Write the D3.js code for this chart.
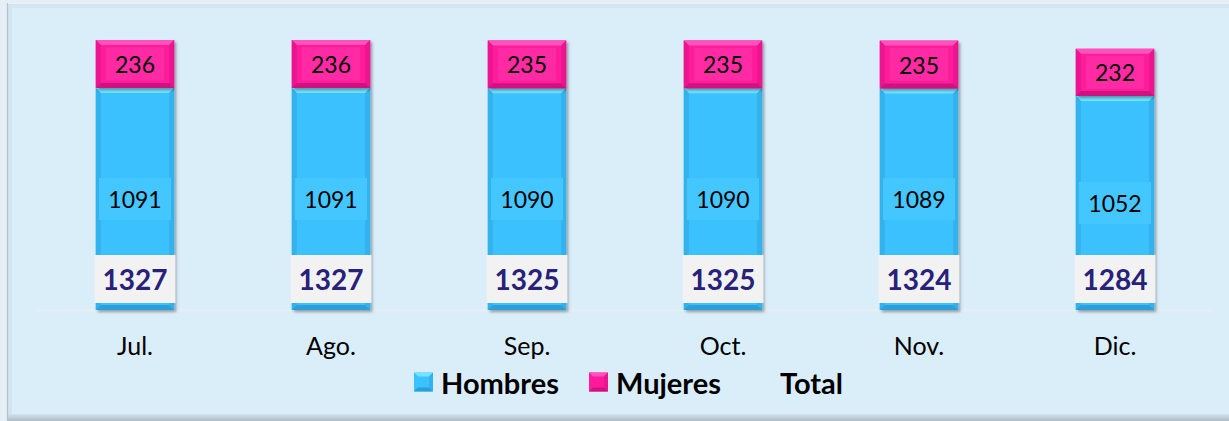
<!DOCTYPE html>
<html>
<head>
<meta charset="utf-8">
<script src="https://cdn.jsdelivr.net/npm/d3@7"></script>
<style>
  html, body { margin: 0; padding: 0; background: #ffffff; }
  svg { display: block; }
  text { font-family: Lato, "Liberation Sans", sans-serif; }
</style>
</head>
<body>
<svg id="chart" width="1229" height="421"></svg>
<script>
// Monthly headcount by sex, second half of the year
const categories = ["Jul.", "Ago.", "Sep.", "Oct.", "Nov.", "Dic."];
const hombres = [1091, 1091, 1090, 1090, 1089, 1052];
const mujeres = [236, 236, 235, 235, 235, 232];
const totals = [1327, 1327, 1325, 1325, 1324, 1284];
const seriesNames = ["Hombres", "Mujeres", "Total"];

const W = 1229, H = 421;
const svg = d3.select("#chart");

// Panel frame with a light bevel
const defs = svg.append("defs");
const bottomGrad = defs.append("linearGradient").attr("id", "bottomBand")
  .attr("x1", 0).attr("y1", 0).attr("x2", 0).attr("y2", 1);
bottomGrad.append("stop").attr("offset", "0%").attr("stop-color", "#d3e2ec");
bottomGrad.append("stop").attr("offset", "100%").attr("stop-color", "#aebcc6");

const shadow = defs.append("filter").attr("id", "barShadow")
  .attr("x", "-20%").attr("y", "-10%").attr("width", "150%").attr("height", "130%");
shadow.append("feDropShadow").attr("dx", 2).attr("dy", 2)
  .attr("stdDeviation", 1.6).attr("flood-color", "#000").attr("flood-opacity", 0.35);

svg.append("rect").attr("x", 0).attr("y", 0).attr("width", W).attr("height", H)
  .attr("fill", "#e6eff5");
svg.append("rect").attr("x", 8).attr("y", 3).attr("width", W - 8).attr("height", H - 3)
  .attr("fill", "#d2e5f1");
svg.append("rect").attr("x", 12).attr("y", 8).attr("width", W - 12).attr("height", 406)
  .attr("fill", "#daeefa");
svg.append("rect").attr("x", 8).attr("y", 414).attr("width", W - 8).attr("height", 7)
  .attr("fill", "url(#bottomBand)");
svg.append("line").attr("x1", 7.5).attr("x2", 7.5).attr("y1", 3).attr("y2", H)
  .attr("stroke", "#b4c3cd").attr("stroke-width", 1.2);
svg.append("line").attr("x1", 8).attr("x2", W).attr("y1", 3.5).attr("y2", 3.5)
  .attr("stroke", "#e9f1f6").attr("stroke-width", 1);

// Scales
const x = d3.scaleBand().domain(categories).range([37, 1213]).paddingInner(0.6).paddingOuter(0.3);
const y = d3.scaleLinear().domain([0, 1400]).range([310, 310 - 1400 * 270 / 1327]);

// Baseline
svg.append("line").attr("x1", 37).attr("x2", 1213).attr("y1", y(0)).attr("y2", y(0))
  .attr("stroke", "#e7edf1").attr("stroke-width", 2.5);

// Stacked data
const rows = categories.map((c, i) => ({ cat: c, Hombres: hombres[i], Mujeres: mujeres[i], Total: totals[i] }));
const stacked = d3.stack().keys(["Hombres", "Mujeres"])(rows);

const palette = {
  Hombres: { main: "#3bc1fe", top: "#72e4ff", side: "#33b2ec", bottom: "#2a9fd8", label: "#44c7ff" },
  Mujeres: { main: "#fe1a9b", top: "#ff52bd", side: "#ec1590", bottom: "#cf1280", label: "#ff2aa4" }
};

const bev = 5;
const barsG = svg.append("g");

stacked.forEach(layer => {
  const key = layer.key;
  const col = palette[key];
  layer.forEach(seg => {
    const cat = seg.data.cat;
    const x0 = x(cat), x1 = x(cat) + x.bandwidth();
    const y0 = y(seg[1]), y1 = y(seg[0]);
    const g = barsG.append("g");
    g.append("rect").attr("x", x0).attr("y", y0).attr("width", x1 - x0).attr("height", y1 - y0)
      .attr("fill", col.main).attr("filter", "url(#barShadow)");
    // bevel faces
    g.append("polygon").attr("points", [[x0, y0], [x1, y0], [x1 - bev, y0 + bev], [x0 + bev, y0 + bev]].join(" "))
      .attr("fill", col.top);
    g.append("polygon").attr("points", [[x0, y0], [x0 + bev, y0 + bev], [x0 + bev, y1 - bev], [x0, y1]].join(" "))
      .attr("fill", col.side);
    g.append("polygon").attr("points", [[x1, y0], [x1, y1], [x1 - bev, y1 - bev], [x1 - bev, y0 + bev]].join(" "))
      .attr("fill", col.side);
    g.append("polygon").attr("points", [[x0, y1], [x0 + bev, y1 - bev], [x1 - bev, y1 - bev], [x1, y1]].join(" "))
      .attr("fill", col.bottom);
  });
});

// Segment value labels
const labelG = svg.append("g");
stacked.forEach(layer => {
  const key = layer.key;
  const col = palette[key];
  layer.forEach(seg => {
    const cx = x(seg.data.cat) + x.bandwidth() / 2;
    const cy = (y(seg[0]) + y(seg[1])) / 2;
    const bw = key === "Mujeres" ? 58 : 72;
    const bh = key === "Mujeres" ? 33 : 42;
    labelG.append("rect").attr("x", cx - bw / 2).attr("y", cy - bh / 2)
      .attr("width", bw).attr("height", bh).attr("fill", col.label);
    labelG.append("text").attr("x", cx).attr("y", cy)
      .attr("text-anchor", "middle").attr("dominant-baseline", "central")
      .attr("font-size", 23).attr("fill", "#000")
      .text(seg.data[key]);
  });
});

// Total labels placed at the bar base
rows.forEach(r => {
  const cx = x(r.cat) + x.bandwidth() / 2;
  const bottom = y(0) - 7;
  labelG.append("rect").attr("x", cx - 40.5).attr("y", bottom - 48)
    .attr("width", 81).attr("height", 48).attr("fill", "#f2f2f2");
  labelG.append("text").attr("x", cx).attr("y", bottom - 24)
    .attr("text-anchor", "middle").attr("dominant-baseline", "central")
    .attr("font-size", 28).attr("font-weight", "bold").attr("fill", "#272179")
    .text(r.Total);
});

// Category axis
const xAxis = d3.axisBottom(x).tickSize(0).tickPadding(0);
const axG = svg.append("g").attr("transform", `translate(0, ${y(0) + 36})`).call(xAxis);
axG.select(".domain").remove();
axG.selectAll("text").attr("font-size", 25).attr("fill", "#000")
  .attr("font-family", "Lato, 'Liberation Sans', sans-serif")
  .attr("dy", "0.35em").attr("y", 0);

// Legend
const legend = svg.append("g");
const legendItems = [
  { name: seriesNames[0], x: 414, col: palette.Hombres },
  { name: seriesNames[1], x: 589, col: palette.Mujeres },
  { name: seriesNames[2], x: 780, col: null }
];
legendItems.forEach(it => {
  const ly = 382;
  let tx = it.x;
  if (it.col) {
    const s = 19, x0 = it.x, y0 = ly - 9.5, b = 4;
    legend.append("rect").attr("x", x0).attr("y", y0).attr("width", s).attr("height", s).attr("fill", it.col.main);
    legend.append("polygon").attr("points", [[x0, y0], [x0 + s, y0], [x0 + s - b, y0 + b], [x0 + b, y0 + b]].join(" ")).attr("fill", it.col.top);
    legend.append("polygon").attr("points", [[x0, y0 + s], [x0 + b, y0 + s - b], [x0 + s - b, y0 + s - b], [x0 + s, y0 + s]].join(" ")).attr("fill", it.col.bottom);
    legend.append("polygon").attr("points", [[x0 + s, y0], [x0 + s, y0 + s], [x0 + s - b, y0 + s - b], [x0 + s - b, y0 + b]].join(" ")).attr("fill", it.col.side);
    tx = it.x + 27;
  }
  legend.append("text").attr("x", tx).attr("y", ly)
    .attr("dominant-baseline", "central")
    .attr("font-size", 29).attr("font-weight", "bold").attr("fill", "#000")
    .text(it.name);
});
</script>
</body>
</html>
